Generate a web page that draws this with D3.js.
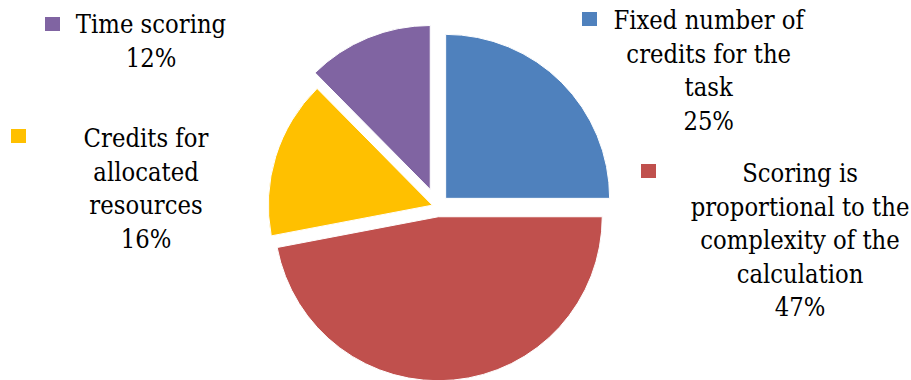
<!DOCTYPE html>
<html>
<head>
<meta charset="utf-8">
<script src="https://cdn.jsdelivr.net/npm/d3@7"></script>
<style>
  body { margin: 0; background: #fff; }
  svg text { font-family: "DejaVu Serif", serif; font-size: 26.5px; fill: #000; }
</style>
</head>
<body>
<svg id="chart" width="911" height="380"></svg>
<script>
// data
var categories = ["Fixed number of credits for the task",
                  "Scoring is proportional to the complexity of the calculation",
                  "Credits for allocated resources",
                  "Time scoring"];
var shares = [25, 47, 15.6, 12.4];
var labelLines = [
  ["Fixed number of", "credits for the", "task"],
  ["Scoring is", "proportional to the", "complexity of the", "calculation"],
  ["Credits for", "allocated", "resources"],
  ["Time scoring"]
];
var colors = ["#4F81BD", "#C0504D", "#FFC000", "#8064A2"];

// layout
var cx = 437.3, cy = 206.7, radius = 164;
var explode = [11.8, 10.1, 5.2, 18.6];
var labelPos = [
  { x: 708.7, y: 29.3, sq: [582, 12] },
  { x: 800,   y: 182.3, sq: [641, 164] },
  { x: 146,   y: 147.3, sq: [11, 129] },
  { x: 151,   y: 33.3, sq: [45, 17] }
];
var lineH = 33.5;
var squeeze = 0.86; // DejaVu Serif is wider than Times

var svg = d3.select("#chart");
var pct = d3.format(".0%");

var pie = d3.pie().sort(null).value(d => d);
var arc = d3.arc().innerRadius(0).outerRadius(radius);

var slices = pie(shares);

svg.append("g")
    .attr("transform", "translate(" + cx + "," + cy + ")")
  .selectAll("path")
  .data(slices)
  .enter()
  .append("path")
    .attr("d", arc)
    .attr("transform", (d, i) => {
      var a = (d.startAngle + d.endAngle) / 2;
      return "translate(" + (Math.sin(a) * explode[i]) + "," + (-Math.cos(a) * explode[i]) + ")";
    })
    .style("fill", (d, i) => colors[i])
    .style("stroke", "#fff")
    .style("stroke-width", 1);

// labels with their legend squares
var lab = svg.append("g")
  .selectAll("g")
  .data(categories)
  .enter()
  .append("g");

lab.append("rect")
    .attr("x", (d, i) => labelPos[i].sq[0])
    .attr("y", (d, i) => labelPos[i].sq[1])
    .attr("width", 15)
    .attr("height", 14)
    .style("fill", (d, i) => colors[i]);

lab.each(function(d, i) {
  var lines = labelLines[i].concat([pct(shares[i] / 100)]);
  d3.select(this)
    .append("text")
      .attr("text-anchor", "middle")
      .attr("transform", "translate(" + labelPos[i].x + ",0) scale(" + squeeze + ",1)")
    .selectAll("tspan")
    .data(lines)
    .enter()
    .append("tspan")
      .attr("x", 0)
      .attr("y", (t, j) => labelPos[i].y + j * lineH)
      .text(t => t);
});
</script>
</body>
</html>
